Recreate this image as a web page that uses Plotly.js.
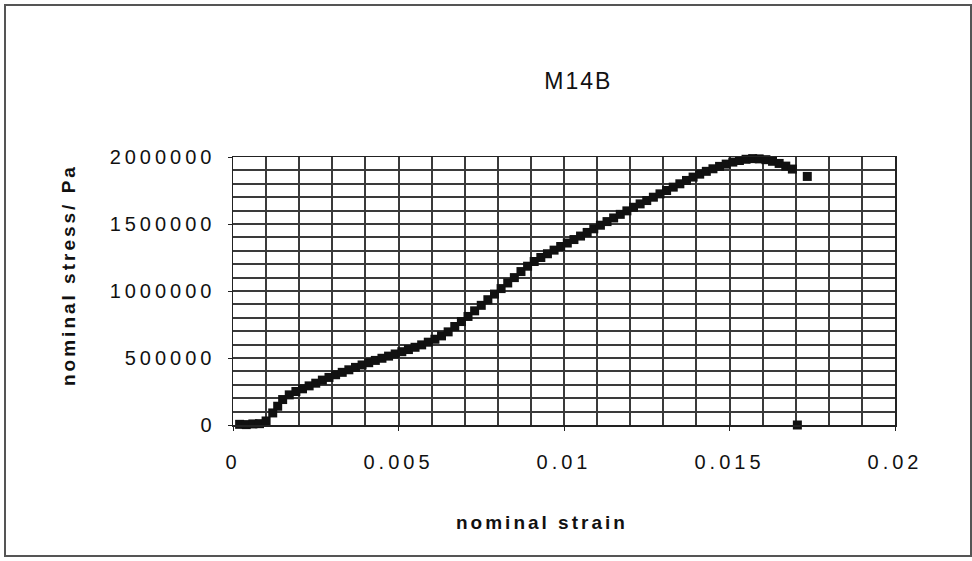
<!DOCTYPE html>
<html><head><meta charset="utf-8">
<script src="https://cdn.plot.ly/plotly-3.0.1.min.js"></script>
<style>
body{margin:0;background:#fff}#c{width:972px;height:561px}
g.xtick text, g.ytick text{letter-spacing:4px}
g.annotation-text-g text{letter-spacing:3px}
g.g-gtitle text{letter-spacing:2px}
</style>
</head><body><div id="c"></div>
<script>
const strain = [0.0002,0.0004,0.0006,0.0008,0.0010,0.0012,0.00135,0.0015,0.0017,0.0019,0.0021,0.0023,0.0025,0.0027,0.0029,0.0031,0.0033,0.0035,0.0037,0.0039,0.0041,0.0043,0.0045,0.0047,0.0049,0.0051,0.0053,0.0055,0.0057,0.0059,0.0061,0.0063,0.0065,0.0067,0.0069,0.0071,0.0073,0.0075,0.0077,0.0079,0.0081,0.0083,0.0085,0.0087,0.0089,0.0091,0.0093,0.0095,0.0097,0.0099,0.0101,0.0103,0.0105,0.0107,0.0109,0.0111,0.0113,0.0115,0.0117,0.0119,0.0121,0.0123,0.0125,0.0127,0.0129,0.0131,0.0133,0.0135,0.0137,0.0139,0.0141,0.0143,0.0145,0.0147,0.0149,0.0151,0.0153,0.0155,0.0157,0.0159,0.0161,0.0163,0.0165,0.0167,0.0169,0.01735,0.01705];
const stress = [5000,3000,8000,10000,30000,90000,140000,190000,225000,250000,270000,292000,312000,335000,355000,375000,393000,412000,430000,448000,465000,482000,498000,514000,530000,547000,563000,580000,598000,618000,640000,665000,695000,735000,772000,810000,852000,893000,935000,977000,1018000,1060000,1100000,1145000,1185000,1220000,1250000,1278000,1305000,1332000,1358000,1384000,1410000,1437000,1464000,1491000,1518000,1545000,1572000,1598000,1625000,1650000,1675000,1700000,1725000,1750000,1775000,1800000,1825000,1850000,1872000,1893000,1912000,1930000,1947000,1962000,1974000,1983000,1988000,1986000,1980000,1968000,1952000,1932000,1910000,1855000,0];
const xTicks = [0,0.005,0.01,0.015,0.02];
const xTickText = ['0','0.005','0.01','0.015','0.02'];
const yTicks = [0,500000,1000000,1500000,2000000];
const yTickText = ['0','500000','1000000','1500000','2000000'];
const titleText = 'M14B';
const xTitle = 'nominal strain';
const yTitle = 'nominal stress/ Pa';

const fontFam = 'Liberation Sans, Arial, sans-serif';
const trace = {
  x: strain, y: stress, type: 'scatter', mode: 'markers', cliponaxis: false,
  marker: {symbol: 'square', size: 9, color: '#111'}
};
const W = 662, H = 268;
const px = v => (v - 233) / W;
const py = v => (425 - v) / H;
const gridC = '#3a3a3a';
const layout = {
  width: 972, height: 561,
  margin: {l: 233, r: 77, t: 157, b: 136},
  paper_bgcolor: '#fff', plot_bgcolor: '#fff',
  showlegend: false,
  title: {text: titleText, font: {family: fontFam, size: 23, color: '#111'}, x: 0.595, xanchor: 'center', y: 0.855, yanchor: 'middle'},
  xaxis: {
    range: [0, 0.02], tickvals: xTicks, ticktext: xTickText,
    tickfont: {family: fontFam, size: 20, color: '#111'},
    showgrid: true, gridcolor: gridC, gridwidth: 2,
    minor: {dtick: 0.001, showgrid: true, gridcolor: gridC, gridwidth: 2},
    zeroline: false, showline: true, linecolor: '#222', linewidth: 1.5, mirror: true,
    ticks: 'outside', ticklen: 4, tickcolor: '#222', ticklabelstandoff: 14
  },
  yaxis: {
    range: [0, 2000000], tickvals: yTicks, ticktext: yTickText,
    tickfont: {family: fontFam, size: 20, color: '#111'},
    showgrid: true, gridcolor: gridC, gridwidth: 2,
    minor: {dtick: 100000, showgrid: true, gridcolor: gridC, gridwidth: 2},
    zeroline: false, showline: true, linecolor: '#222', linewidth: 1.5, mirror: true,
    ticks: 'outside', ticklen: 4, tickcolor: '#222', ticklabelstandoff: 8
  },
  annotations: [
    {text: xTitle, xref: 'paper', yref: 'paper', x: px(542), y: py(522), xanchor: 'center', yanchor: 'middle', showarrow: false,
     font: {family: fontFam, size: 19, color: '#111', weight: 'bold'}},
    {text: yTitle, xref: 'paper', yref: 'paper', x: px(68), y: py(275), xanchor: 'center', yanchor: 'middle', showarrow: false, textangle: -90,
     font: {family: fontFam, size: 19, color: '#111', weight: 'bold'}}
  ],
  shapes: [{
    type: 'rect', xref: 'paper', yref: 'paper',
    x0: px(5), x1: px(971), y0: py(556), y1: py(5),
    line: {color: '#555', width: 2}
  }]
};
Plotly.newPlot('c', [trace], layout, {displayModeBar: false, staticPlot: true});
</script>
</body></html>
